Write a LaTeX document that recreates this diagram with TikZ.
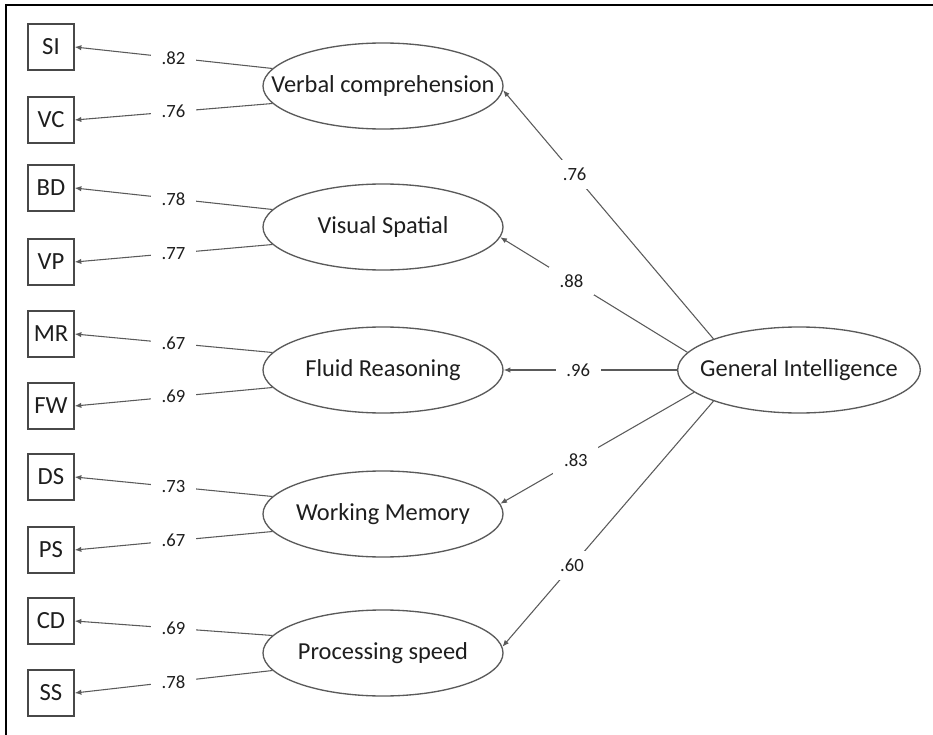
\documentclass[tikz,border=0pt]{standalone}
\usepackage{fontspec}
\setmainfont{Carlito}
\usetikzlibrary{shapes.geometric,arrows.meta}
\definecolor{ln}{HTML}{5A5A5A}
\definecolor{tx}{HTML}{1E1E1E}
\tikzset{
  obs/.style={draw=ln!80!black, line width=1pt, minimum width=34.5pt, minimum height=34.5pt, inner sep=0pt, font=\fontsize{18.5}{18.5}\selectfont, text=tx},
  lat/.style={draw=ln, line width=1pt, ellipse, minimum width=180pt, minimum height=64.5pt, inner sep=0pt, font=\fontsize{18.3}{18.3}\selectfont, text=tx},
  path/.style={draw=ln, line width=0.8pt, -{Latex[length=5pt,width=4pt]}},
  lbl/.style={fill=white, inner xsep=8pt, inner ysep=6pt, font=\fontsize{14}{14}\selectfont, text=tx},
}
\newcommand{\fixw}[1]{\makebox[0pt]{#1}}
\begin{document}
\begin{tikzpicture}[x=0.75pt,y=-0.75pt]
\useasboundingbox (0,0) rectangle (933,735);
\draw[line width=1.3pt] (933,5) -- (6,5) -- (6,735);
% observed
\node[obs] (SI) at (51,47) {SI};
\node[obs] (VC) at (51,120) {VC};
\node[obs] (BD) at (51,188) {BD};
\node[obs] (VP) at (51,262) {VP};
\node[obs] (MR) at (51,334) {MR};
\node[obs] (FW) at (51,406) {FW};
\node[obs] (DS) at (51,477) {DS};
\node[obs] (PS) at (51,550) {PS};
\node[obs] (CD) at (51,621) {CD};
\node[obs] (SS) at (51,693) {SS};
% latent
\node[lat] (verb) at (383,86) {\fixw{Verbal comprehension}};
\node[lat] (vis) at (383,227) {\fixw{Visual Spatial}};
\node[lat] (flu) at (383,370) {\fixw{Fluid Reasoning}};
\node[lat] (wm) at (383,514) {\fixw{Working Memory}};
\node[lat] (proc) at (383,653) {\fixw{Processing speed}};
\node[lat, minimum width=182pt] (gi) at (799,370) {\fixw{General Intelligence}};
% loadings
\draw[path] (verb.171) -- node[lbl,pos=0.5]{.82} (SI.east);
\draw[path] (verb.189) -- node[lbl,pos=0.5]{.76} (VC.east);
\draw[path] (vis.171) -- node[lbl,pos=0.5]{.78} (BD.east);
\draw[path] (vis.189) -- node[lbl,pos=0.5]{.77} (VP.east);
\draw[path] (flu.171) -- node[lbl,pos=0.5]{.67} (MR.east);
\draw[path] (flu.189) -- node[lbl,pos=0.5]{.69} (FW.east);
\draw[path] (wm.171) -- node[lbl,pos=0.5]{.73} (DS.east);
\draw[path] (wm.189) -- node[lbl,pos=0.5]{.67} (PS.east);
\draw[path] (proc.171) -- node[lbl,pos=0.5]{.69} (CD.east);
\draw[path] (proc.189) -- node[lbl,pos=0.5]{.78} (SS.east);
% second order
\draw[path] (gi.160) -- node[lbl,pos=0.66]{.76} (verb.-2);
\draw[path] (gi.171) -- node[lbl,pos=0.62]{.88} (vis.-5);
\draw[path] (gi.west) -- node[lbl,pos=0.57]{.96} (flu.east);
\draw[path] (gi.192) -- node[lbl,pos=0.61]{.83} (wm.5);
\draw[path] (gi.200) -- node[lbl,pos=0.67]{.60} (proc.3);
\end{tikzpicture}
\end{document}
